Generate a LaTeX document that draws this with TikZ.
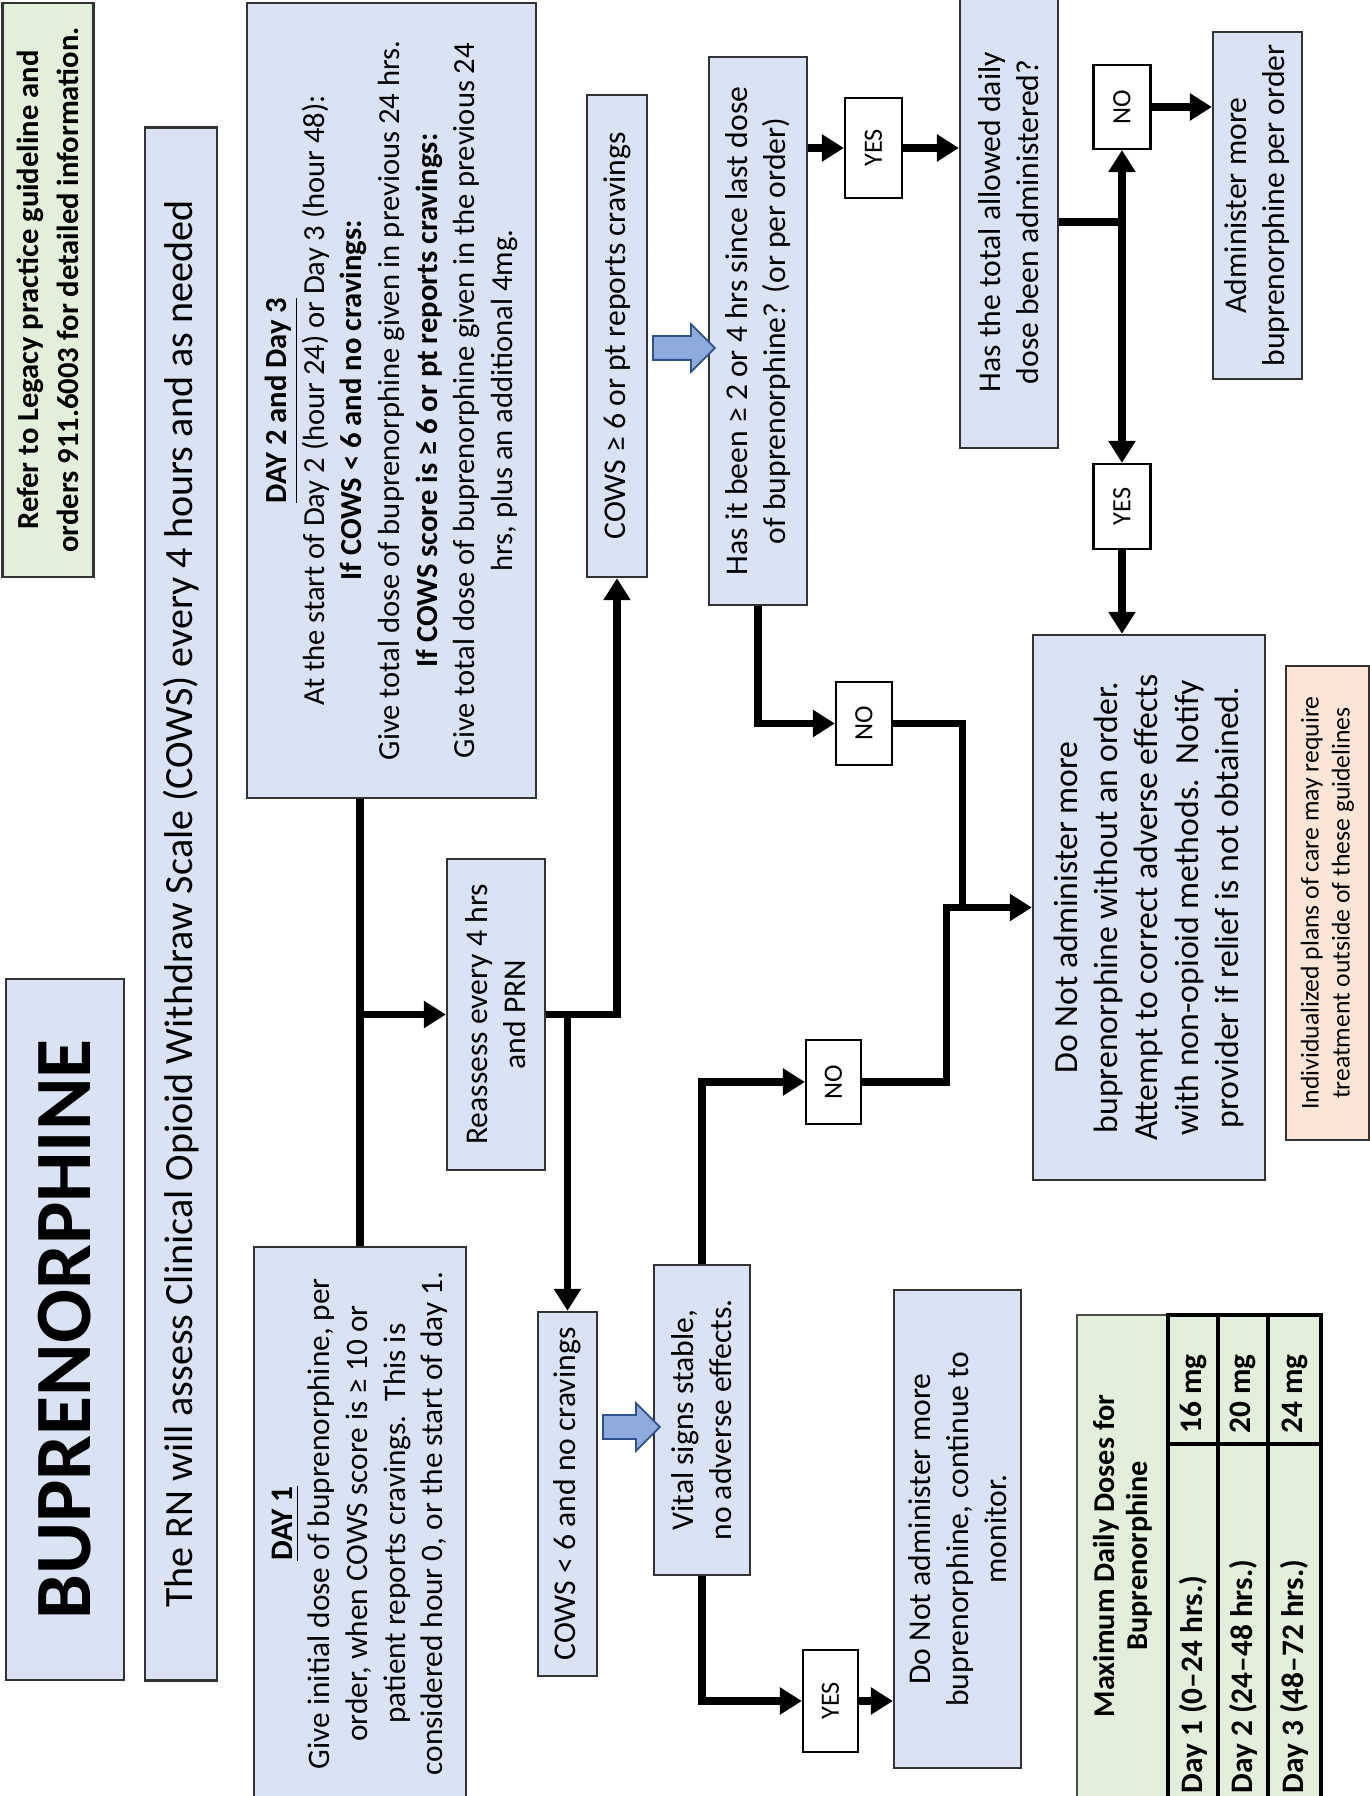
\documentclass[tikz,border=0pt]{standalone}
\usepackage{fontspec}
\setmainfont{Carlito}
\usetikzlibrary{arrows.meta,shapes.arrows}

\definecolor{paleblue}{HTML}{DAE3F3}
\definecolor{palegreen}{HTML}{E2EFDA}
\definecolor{palepink}{HTML}{FBE5D6}
\definecolor{pushblue}{HTML}{8FAADC}
\definecolor{pushedge}{HTML}{2F528F}

\begin{document}
\begin{tikzpicture}[
      x=0.01cm, y=0.01cm,
      box/.style = {shape=rectangle, draw=black!80, line width=0.6pt, fill=paleblue, align=center, inner sep=0pt, font=\fontsize{9}{10.8}\selectfont},
      notebox/.style = {box, fill=palegreen},
      answer/.style = {shape=rectangle, draw=black, line width=0.6pt, fill=white, inner sep=0pt, font=\fontsize{7.5}{9}\selectfont},
      wire/.style = {line width=2pt},
      wirearrow/.style = {wire, -{Triangle[length=0.22cm, width=0.26cm]}},
      push/.style = {shape=single arrow, draw=pushedge, line width=0.5pt, fill=pushblue, inner sep=0.11cm, minimum width=0.46cm, single arrow head extend=0.12cm, shape border rotate=270},
      cell/.style = {inner sep=0pt, font=\bfseries\fontsize{8.9}{9.4}\selectfont}
      ]
  \useasboundingbox (-1370,0) rectangle (0,1796);
  \clip (-1370,0) rectangle (0,1796);
  \begin{scope}[rotate=90, transform shape]
    \node[notebox, minimum width=5.74cm, minimum height=0.91cm, font=\bfseries\fontsize{8.7}{11.4}\selectfont] (refer) at (1506,1322) {Refer to Legacy practice guideline and\\orders 911.6003 for detailed information.};
    \node[box, minimum width=7.01cm, minimum height=1.18cm, font=\bfseries\fontsize{22.7}{26}\selectfont] (title) at (466.5,1305) {BUPRENORPHINE};
    \node[box, minimum width=15.52cm, minimum height=0.72cm, font=\fontsize{11.4}{13}\selectfont] (assess) at (892,1189) {The RN will assess Clinical Opioid Withdraw Scale (COWS) every 4 hours and as needed};
    \node[box, minimum width=7.95cm, minimum height=2.89cm, font=\fontsize{8.7}{10.7}\selectfont] (daytwo) at (1395.5,978.5) {\textbf{\underline{DAY 2 and Day 3}}\\At the start of Day 2 (hour 24) or Day 3 (hour 48):\\\textbf{If COWS < 6 and no cravings:}\\Give total dose of buprenorphine given in previous 24 hrs.\\\textbf{If COWS score is ≥ 6 or pt reports cravings:}\\Give total dose of buprenorphine given in the previous 24\\hrs, plus an additional 4mg.};
    \node[box, minimum width=5.53cm, minimum height=2.12cm, font=\fontsize{8.9}{10.7}\selectfont] (dayone) at (272.5,1010) {\textbf{\underline{DAY 1}}\\Give initial dose of buprenorphine, per\\order, when COWS score is ≥ 10 or\\patient reports cravings.\ \ This is\\considered hour 0, or the start of day 1.};
    \node[box, minimum width=3.11cm, minimum height=0.98cm] (reassess) at (781.5,874) {Reassess every 4 hrs\\and PRN};
    \node[box, minimum width=4.82cm, minimum height=0.60cm] (cowshigh) at (1460,753) {COWS ≥ 6 or pt reports cravings};
    \node[box, minimum width=5.48cm, minimum height=0.98cm] (sincelast) at (1465,612) {Has it been ≥ 2 or 4 hrs since last dose\\of buprenorphine? (or per order)};
    \node[box, minimum width=3.64cm, minimum height=0.59cm] (cowslow) at (302,802.5) {COWS < 6 and no cravings};
    \node[box, minimum width=3.10cm, minimum height=0.96cm] (vitals) at (376,668) {Vital signs stable,\\no adverse effects.};
    \node[box, minimum width=4.78cm, minimum height=1.27cm] (monitor) at (267,412.5) {Do Not administer more\\buprenorphine, continue to\\monitor.};
    \node[box, minimum width=4.52cm, minimum height=0.98cm] (dailymax) at (1574,361) {Has the total allowed daily\\dose been administered?};
    \node[box, minimum width=3.47cm, minimum height=0.89cm] (givemore) at (1590.5,112.5) {Administer more\\buprenorphine per order};
    \node[box, minimum width=5.45cm, minimum height=2.32cm, font=\fontsize{9.6}{11.5}\selectfont] (holddose) at (888.5,221) {Do Not administer more\\buprenorphine without an order.\\Attempt to correct adverse effects\\with non-opioid methods.\ \ Notify\\provider if relief is not obtained.};
    \node[box, fill=palepink, minimum width=4.74cm, minimum height=0.83cm, font=\fontsize{7.3}{8.8}\selectfont] (careplan) at (893,42.5) {Individualized plans of care may require\\treatment outside of these guidelines};

    \node[answer, minimum width=1.02cm, minimum height=0.55cm] (yesvitals) at (95,539.5) {YES};
    \node[answer, minimum width=0.84cm, minimum height=0.55cm] (novitals) at (714,536.5) {NO};
    \node[answer, minimum width=0.83cm, minimum height=0.56cm] (nosince) at (1072.5,506) {NO};
    \node[answer, minimum width=1.00cm, minimum height=0.57cm] (yessince) at (1648,496.5) {YES};
    \node[answer, minimum width=0.84cm, minimum height=0.57cm] (nodaily) at (1689,248) {NO};
    \node[answer, minimum width=0.85cm, minimum height=0.57cm] (yesdaily) at (1289.5,248) {YES};

    \node[push, minimum height=0.62cm] (pushhigh) at (1448,692) {};
    \node[push, minimum height=0.57cm] (pushlow) at (369,744.5) {};

    \draw[wire] (daytwo.west |- dayone.east) -- (dayone.east);
    \draw[wirearrow] (reassess.north |- dayone.east) -- (reassess.north);
    \draw[wirearrow] (reassess.south) -- (reassess.south |- cowshigh.west) -- (cowshigh.west);
    \draw[wirearrow] (reassess.south |- cowslow.east) -- (cowslow.east);
    \draw[wirearrow] (yessince.north |- sincelast.south) -- (yessince.north);
    \draw[wirearrow] (yessince.south) -- (yessince.south |- dailymax.north);
    \draw[wirearrow] (dailymax.south) -- (dailymax.south |- nodaily.west) -- (nodaily.west);
    \draw[wirearrow] (dailymax.south |- yesdaily.east) -- (yesdaily.east);
    \draw[wirearrow] (nodaily.south) -- (nodaily.south |- givemore.north);
    \draw[wirearrow] (yesdaily.west) -- (yesdaily.west -| holddose.east);
    \draw[wirearrow] (sincelast.west) -- (nosince.north |- sincelast.west) -- (nosince.north);
    \draw[wirearrow] (nosince.south) -- ++(0,-69) coordinate (nobend) -| (holddose.north);
    \draw[wire] (novitals.south) -- ++(0,-84) -| (holddose.north |- nobend);
    \draw[wirearrow] (vitals.east) -- (novitals.north |- vitals.east) -- (novitals.north);
    \draw[wirearrow] (vitals.west) -- (yesvitals.north |- vitals.west) -- (yesvitals.north);
    \draw[wirearrow] (yesvitals.south) -- (yesvitals.south |- monitor.north);

    \fill[palegreen] (-10,49) rectangle (481,293);
    \draw[line width=0.6pt, black!70] (-10,293) -- (481,293) -- (481,202);
    \draw[line width=1.2pt] (-10,202) -- (481,202) -- (481,49) -- (-10,49);
    \draw[line width=1.2pt] (-10,152) -- (481,152) (-10,102) -- (481,102) (352,202) -- (352,49);
    \node[cell, align=center, font=\bfseries\fontsize{8.6}{9.4}\selectfont] (maxhead) at (240,247.5) {Maximum Daily Doses for\\Buprenorphine};
    \node[cell, anchor=west] (dayonerow) at (2,177) {Day 1 (0--24 hrs.)};
    \node[cell] (dayonedose) at (402,177) {16 mg};
    \node[cell, anchor=west] (daytworow) at (2,127) {Day 2 (24--48 hrs.)};
    \node[cell] (daytwodose) at (402,127) {20 mg};
    \node[cell, anchor=west] (daythreerow) at (2,75.5) {Day 3 (48--72 hrs.)};
    \node[cell] (daythreedose) at (402,75.5) {24 mg};
  \end{scope}
\end{tikzpicture}
\end{document}
